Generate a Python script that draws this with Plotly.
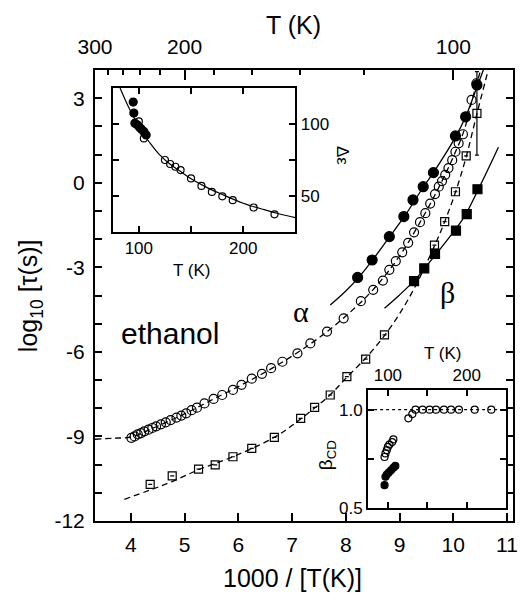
import plotly.graph_objects as go

# ---------------- main panel: log10(tau) vs 1000/T ----------------
# dielectric alpha relaxation (open circles)
alpha_diel_x = [4.01, 4.07, 4.13, 4.19, 4.25, 4.33, 4.40, 4.47, 4.56, 4.65, 4.74, 4.85,
                4.94, 5.03, 5.13, 5.23, 5.37, 5.54, 5.70, 5.90, 6.06, 6.25, 6.44, 6.61,
                6.82, 7.10, 7.34, 7.65, 7.96, 8.28, 8.51, 8.69, 8.81, 8.93, 9.05, 9.16,
                9.27, 9.38, 9.48, 9.57, 9.66, 9.73, 9.79, 9.85, 9.91, 9.98, 10.04, 10.10,
                10.18, 10.34, 10.43]
alpha_diel_y = [-9.05, -9.00, -8.93, -8.88, -8.82, -8.76, -8.70, -8.64, -8.57, -8.50, -8.42, -8.33,
                -8.26, -8.18, -8.07, -7.98, -7.83, -7.67, -7.53, -7.35, -7.17, -6.95, -6.78, -6.58,
                -6.35, -6.05, -5.70, -5.28, -4.81, -4.20, -3.80, -3.47, -3.09, -2.78, -2.47, -2.13,
                -1.76, -1.40, -1.08, -0.74, -0.40, -0.14, 0.06, 0.28, 0.52, 0.80, 1.10, 1.40,
                1.72, 2.94, 3.53]
alpha_diel_fit_x = [3.333, 3.7, 4.0, 4.5, 5.0, 5.5, 6.0, 6.5, 7.0, 7.5, 8.0, 8.5, 9.0,
                    9.5, 9.8, 10.0, 10.2, 10.35, 10.51]
alpha_diel_fit_y = [-9.10, -9.06, -9.02, -8.63, -8.20, -7.71, -7.23, -6.72, -6.15, -5.50, -4.73,
                    -3.81, -2.60, -1.00, 0.10, 0.92, 1.85, 2.94, 4.0]

# alpha relaxation from a second technique (filled circles)
alpha_fill_x = [8.22, 8.49, 8.81, 9.08, 9.25, 9.44, 9.63, 10.04, 10.23, 10.44]
alpha_fill_y = [-3.36, -2.74, -1.91, -1.20, -0.61, -0.14, 0.36, 1.66, 2.34, 3.47]
alpha_fill_fit_x = [7.71, 8.0, 8.22, 8.49, 8.81, 9.1, 9.44, 9.63, 10.04, 10.23, 10.44, 10.56]
alpha_fill_fit_y = [-4.34, -3.84, -3.40, -2.76, -1.93, -1.17, -0.16, 0.36, 1.62, 2.34, 3.40, 4.0]

# dielectric secondary process (open squares)
sec_diel_x = [4.36, 4.77, 5.26, 5.57, 5.90, 6.25, 6.67, 7.16, 7.42, 7.71, 8.02, 8.37, 8.72,
              9.65, 9.84, 10.04, 10.24, 10.44]
sec_diel_y = [-10.70, -10.40, -10.16, -10.01, -9.72, -9.42, -9.03, -8.36, -7.97, -7.53, -6.88,
              -6.26, -5.40, -2.21, -1.38, -0.32, 0.95, 2.46]
sec_diel_err = [0] * 17 + [1.48]
sec_diel_fit_x = [3.88, 4.36, 4.77, 5.26, 5.9, 6.67, 7.16, 7.71, 8.02, 8.37, 8.72, 9.0, 9.3,
                  9.65, 9.84, 10.04, 10.24, 10.44, 10.65]
sec_diel_fit_y = [-11.23, -10.90, -10.60, -10.18, -9.72, -9.03, -8.38, -7.52, -6.90, -6.22,
                  -5.42, -4.65, -3.65, -2.24, -1.38, -0.34, 0.92, 2.45, 4.0]

# beta relaxation (filled squares)
beta_x = [9.27, 9.46, 9.66, 10.05, 10.25, 10.45]
beta_y = [-3.49, -3.04, -2.52, -1.70, -1.11, -0.23]
beta_fit_x = [8.72, 9.0, 9.3, 9.6, 9.9, 10.2, 10.5, 10.84]
beta_fit_y = [-4.45, -3.98, -3.42, -2.72, -2.00, -1.22, -0.10, 1.26]

# top axis temperatures
top_major_T = [300, 200, 100]
top_minor_T = [280, 260, 240, 220, 180, 160, 140, 120]

# ---------------- inset: dielectric strength vs T ----------------
de_fill_T = [94.6, 95.2, 96.2, 98.4, 100.6, 102.5, 104.8, 107.0]
de_fill = [115.2, 107.6, 100.6, 99.4, 97.8, 96.4, 94.7, 92.4]
de_open_T = [100.0, 104.8, 125, 130, 135, 140, 150, 160, 170, 180, 190, 210, 230]
de_open = [101.8, 90.0, 75.0, 72.2, 70.3, 68.0, 62.2, 57.0, 52.8, 49.8, 47.1, 42.0, 37.3]
de_fit_T = [82, 85, 90, 95, 100, 105, 110, 120, 130, 140, 150, 165, 180, 200, 220, 235, 250]
de_fit = [125, 120, 112, 105, 98.5, 92.5, 87.5, 78.5, 72, 67, 62, 56, 51, 45, 40.5, 37.5, 35]

# ---------------- inset: stretching parameter vs T ----------------
bcd_open_T = [95.8, 97.0, 98.7, 100.0, 102.0, 105.4, 107.0, 126, 131, 135, 144, 153, 161,
              171, 180, 190, 210, 231]
bcd_open = [0.760, 0.778, 0.795, 0.811, 0.823, 0.836, 0.849, 0.956, 0.978, 1.0, 1.0, 1.0,
            1.0, 1.0, 1.0, 1.0, 1.0, 1.0]
bcd_fill_T = [95.8, 97.0, 98.7, 101.2, 104.0, 107.0, 109.5]
bcd_fill = [0.617, 0.660, 0.671, 0.681, 0.693, 0.705, 0.715]
bcd_ref_T = [75, 250]
bcd_ref = [1.0, 1.0]

BLACK = "black"
FONT = "Liberation Sans, Arial, sans-serif"

fig = go.Figure()


def line(x, y, dash="solid", xa="x", ya="y", width=1.3, shape="spline"):
    fig.add_trace(go.Scatter(x=x, y=y, mode="lines", xaxis=xa, yaxis=ya,
                             line=dict(color=BLACK, width=width, dash=dash, shape=shape),
                             showlegend=False, hoverinfo="skip"))


def pts(x, y, symbol, size, xa="x", ya="y", err=None):
    kw = {}
    if err is not None:
        kw["error_y"] = dict(type="data", array=err, visible=True, color=BLACK,
                             thickness=1.2, width=2)
    fig.add_trace(go.Scatter(x=x, y=y, mode="markers", xaxis=xa, yaxis=ya,
                             marker=dict(symbol=symbol, size=size, color=BLACK,
                                         line=dict(color=BLACK, width=1.2)),
                             showlegend=False, **kw))


# main panel (the top temperature axis shares the same 1000/T scale)
pts(alpha_diel_x, alpha_diel_y, "circle-open", 9)
line(alpha_diel_fit_x, alpha_diel_fit_y, dash="6px,4px", xa="x2")
pts(sec_diel_x, sec_diel_y, "square-open", 8, err=sec_diel_err)
line(sec_diel_fit_x, sec_diel_fit_y, dash="6px,4px")
line(alpha_fill_fit_x, alpha_fill_fit_y)
pts(alpha_fill_x, alpha_fill_y, "circle", 10)
line(beta_fit_x, beta_fit_y)
pts(beta_x, beta_y, "square", 9)

# inset: dielectric strength
line(de_fit_T, de_fit, xa="x3", ya="y3", width=1.2)
pts(de_open_T, de_open, "circle-open", 7, xa="x3", ya="y3")
pts(de_fill_T, de_fill, "circle", 8, xa="x3", ya="y3")

# inset: stretching parameter
line(bcd_ref_T, bcd_ref, dash="dot", xa="x4", ya="y4", width=1.2, shape="linear")
pts(bcd_open_T, bcd_open, "circle-open", 7, xa="x4", ya="y4")
pts(bcd_fill_T, bcd_fill, "circle", 7, xa="x4", ya="y4")

tickfont = dict(family=FONT, size=21, color=BLACK)
inset_font = dict(family=FONT, size=17, color=BLACK)
axis_common = dict(showgrid=False, zeroline=False, showline=True, linecolor=BLACK,
                   linewidth=2, ticks="inside", tickcolor=BLACK, tickwidth=1.5)

xr = [1000 / 300, 1000 / 90]

fig.update_layout(
    width=529, height=595,
    margin=dict(l=95, r=11, t=70, b=74),
    paper_bgcolor="white", plot_bgcolor="white",
    xaxis=dict(axis_common, range=xr, tickvals=[4, 5, 6, 7, 8, 9, 10, 11],
               ticklen=8, tickfont=tickfont, anchor="y", ticklabelstandoff=4),
    xaxis2=dict(axis_common, range=xr, overlaying="x", side="top", anchor="y",
                tickvals=[1000 / t for t in top_major_T],
                ticktext=[str(t) for t in top_major_T], ticklen=10,
                minor=dict(tickvals=[1000 / t for t in top_minor_T], ticks="inside",
                           ticklen=5, tickcolor=BLACK, tickwidth=1.5),
                tickfont=tickfont, ticklabelstandoff=6),
    yaxis=dict(axis_common, range=[-12, 4], mirror="ticks",
               tickvals=list(range(-12, 4)),
               ticktext=[str(v) if v % 3 == 0 else "" for v in range(-12, 4)],
               ticklen=7, tickfont=tickfont, ticklabelstandoff=4),
    xaxis3=dict(axis_common, domain=[0.0425, 0.4793], anchor="y3", range=[75, 250],
                tickvals=[100, 150, 200], ticktext=["100", "", "200"], mirror="ticks",
                ticklen=6, tickfont=inset_font),
    yaxis3=dict(axis_common, domain=[0.6408, 0.9601], anchor="x3", range=[25, 125],
                side="right", tickvals=[50, 75, 100], ticktext=["50", "", "100"],
                mirror="ticks", ticklen=6, tickfont=inset_font),
    xaxis4=dict(axis_common, domain=[0.6534, 0.9839], anchor="y4", range=[75, 250],
                side="top", tickvals=[100, 150, 200], ticktext=["100", "", "200"],
                mirror="ticks", ticklen=6, tickfont=inset_font),
    yaxis4=dict(axis_common, domain=[0.0282, 0.2905], anchor="x4", range=[0.5, 1.1],
                tickvals=[0.5, 0.75, 1.0], ticktext=["0.5", "", "1.0"],
                mirror="ticks", ticklen=6, tickfont=inset_font),
)

ann = [
    dict(text="1000 / [T(K)]", x=0.472, y=-0.126, size=25, angle=0),
    dict(text="T (K)", x=0.475, y=1.1, size=25, angle=0),
    dict(text="log<sub>10</sub> [τ(s)]", x=-0.155, y=0.499, size=25, angle=-90),
    dict(text="ethanol", x=0.179, y=0.415, size=30, angle=0),
    dict(text="T (K)", x=0.2317, y=0.5565, size=17, angle=0),
    dict(text="Δε", x=0.5934, y=0.8115, size=17, angle=90),
    dict(text="T (K)", x=0.8322, y=0.3725, size=17, angle=0),
    dict(text="β<sub>CD</sub>", x=0.5556, y=0.1463, size=19, angle=-90),
]
for a in ann:
    fig.add_annotation(text=a["text"], x=a["x"], y=a["y"], xref="paper", yref="paper",
                       xanchor="center", yanchor="middle",
                       showarrow=False, textangle=a["angle"],
                       font=dict(family=FONT, size=a["size"], color=BLACK))

greek = dict(family="Liberation Serif, Times New Roman, serif", size=30, color=BLACK)
fig.add_annotation(text="α", x=7.17, y=-4.58, xref="x", yref="y", showarrow=False, font=greek,
                   xanchor="center", yanchor="middle")
fig.add_annotation(text="β", x=9.89, y=-3.91, xref="x", yref="y", showarrow=False, font=greek,
                   xanchor="center", yanchor="middle")

fig.write_html("out.html")
